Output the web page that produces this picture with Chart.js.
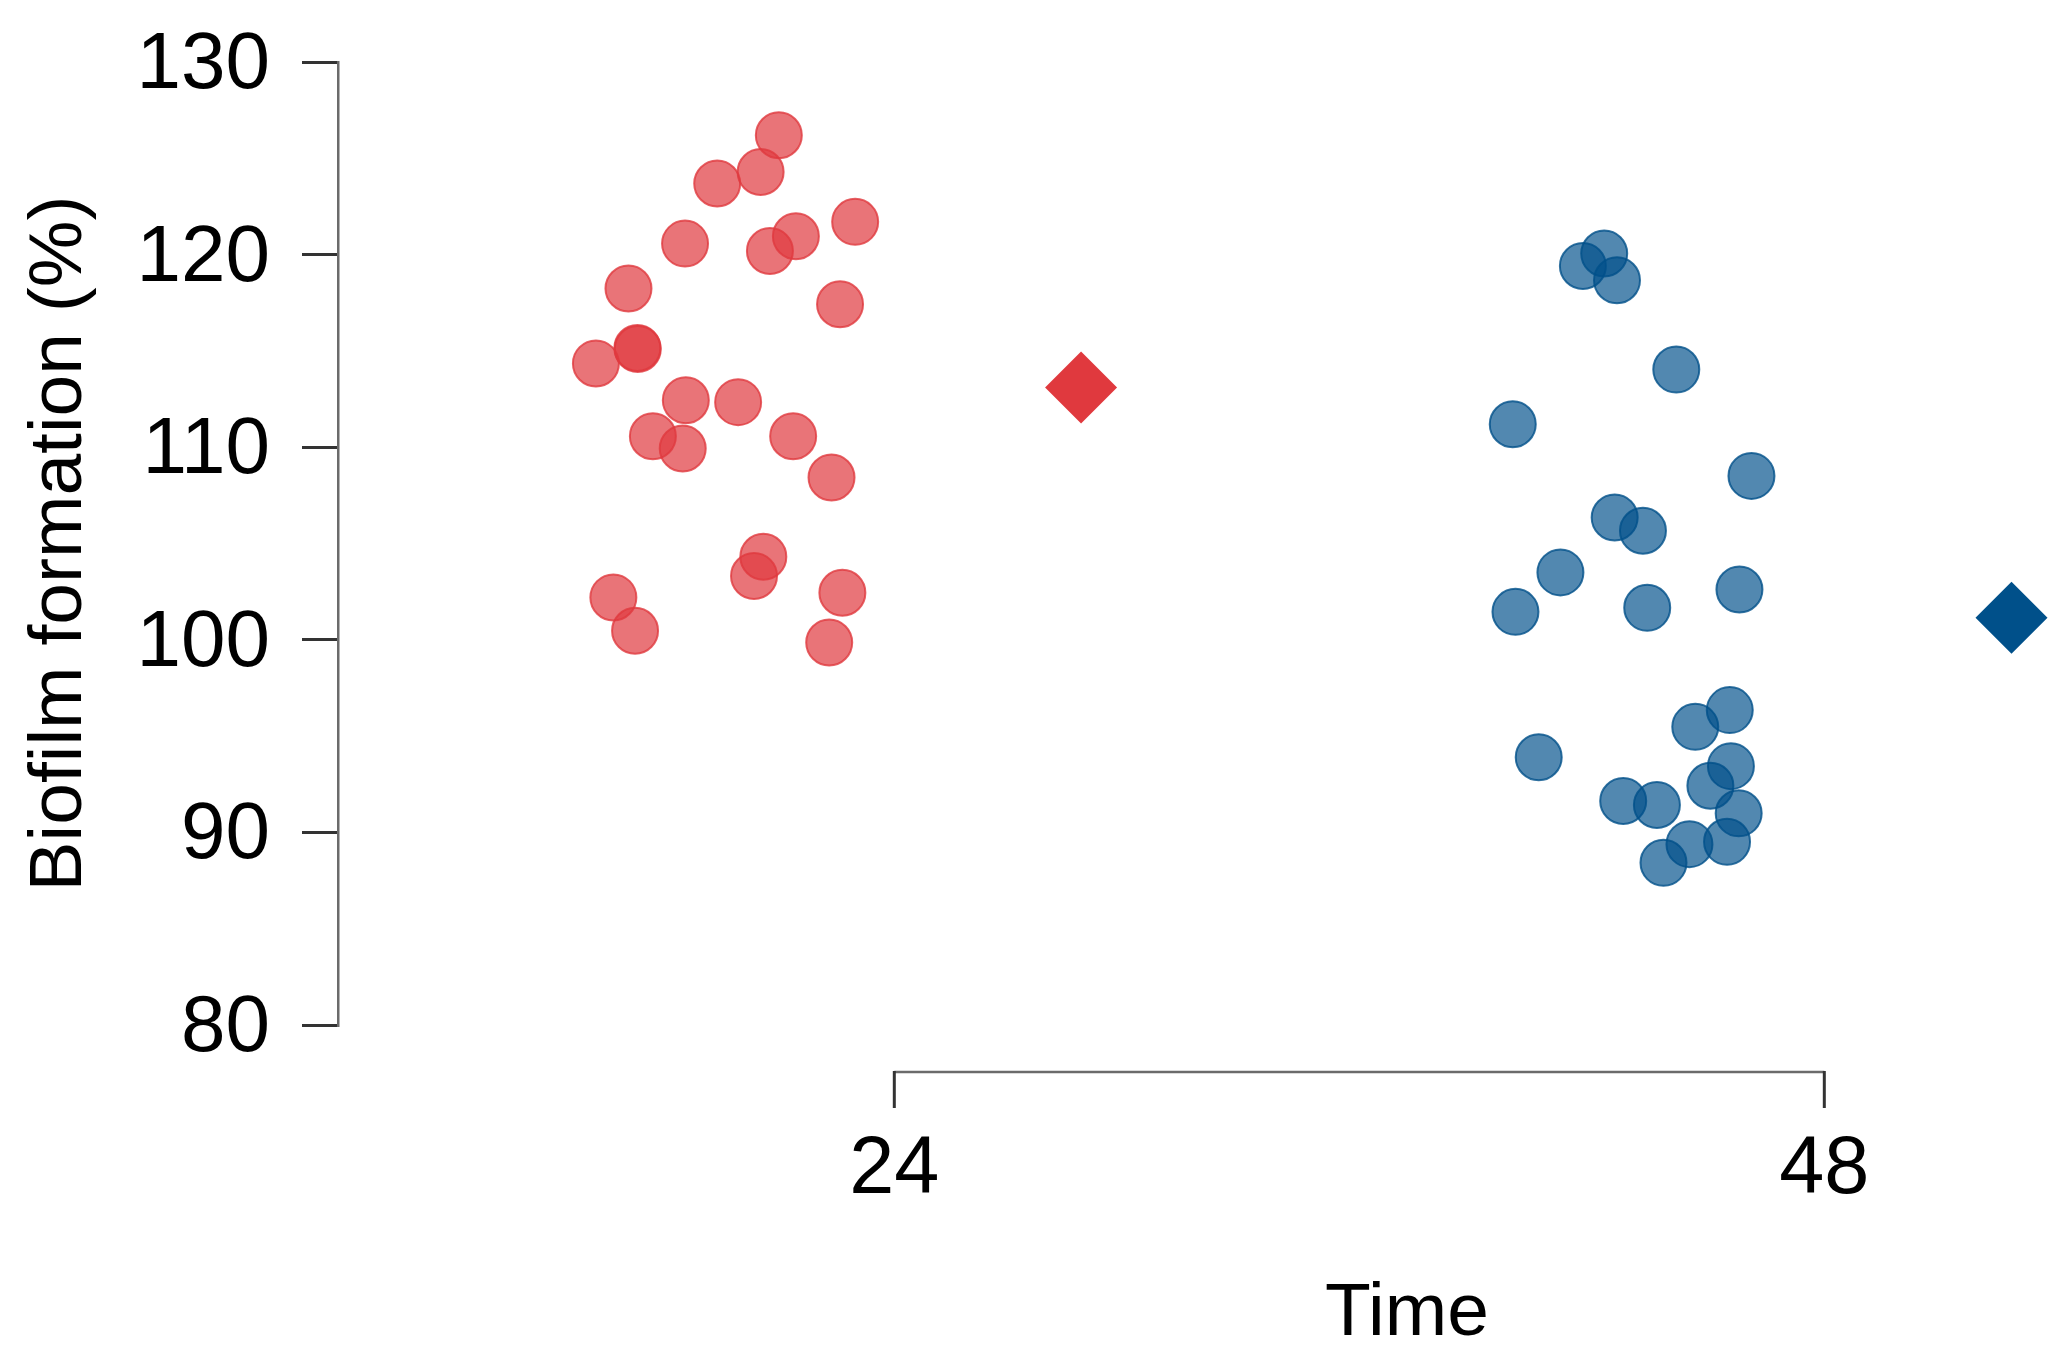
<!DOCTYPE html>
<html>
<head>
<meta charset="utf-8">
<script src="https://cdn.jsdelivr.net/npm/chart.js@4.4.1/dist/chart.umd.min.js"></script>
<style>
  html, body { margin: 0; padding: 0; background: #ffffff; overflow: hidden; }
  canvas { display: block; }
</style>
</head>
<body>
<canvas id="c" width="2061" height="1352"></canvas>
<script>
// ---- data ----
const xTickLabels = [24, 48];
const yTickLabels = [80, 90, 100, 110, 120, 130];
const xAxisTitle = 'Time';
const yAxisTitle = 'Biofilm formation (%)';

const time24X = [21.02, 20.55, 19.43, 22.99, 21.46, 20.79, 18.60, 17.14, 22.60, 17.37, 17.38, 16.30,
                 18.62, 19.97, 17.77, 18.54, 21.39, 22.38, 20.62, 20.38, 16.75, 17.31, 22.66, 22.32];
const time24Y = [126.20, 124.29, 123.69, 121.70, 120.95, 120.19, 120.57, 118.24, 117.42, 115.15, 115.10, 114.35,
                 112.44, 112.34, 110.57, 109.93, 110.57, 108.43, 104.31, 103.31, 102.20, 100.47, 102.44, 99.86];

const time48X = [41.77, 42.32, 42.65, 44.18, 39.96, 46.12, 42.59, 43.32, 41.19, 40.03, 43.43, 45.81,
                 45.56, 44.67, 40.63, 45.59, 45.06, 42.81, 43.68, 45.79, 45.49, 44.52, 43.85];
const time48Y = [119.41, 120.06, 118.67, 114.03, 111.19, 108.51, 106.35, 105.66, 103.50, 101.45, 101.66, 102.61,
                 96.35, 95.48, 93.90, 93.44, 92.42, 91.63, 91.42, 90.99, 89.51, 89.39, 88.42];

const meanX = [28.82, 52.83];
const meanY = [113.1, 101.15];

// axis ranges
const xMin = 9.644, xMax = 53.85;
const yMin = 80, yMax = 130;

const toPoints = (xs, ys) => xs.map((x, i) => ({ x: x, y: ys[i] }));

const FONT = 'Liberation Sans';

const xAxisPlugin = {
  id: 'xAxisLine',
  afterDraw(chart) {
    const { ctx, chartArea, scales } = chart;
    const x = scales.x;
    const yLine = chartArea.bottom + 47;
    const p1 = x.getPixelForValue(xTickLabels[0]);
    const p2 = x.getPixelForValue(xTickLabels[xTickLabels.length - 1]);
    ctx.save();
    ctx.strokeStyle = '#6b6b6b';
    ctx.lineWidth = 2.5;
    ctx.beginPath();
    ctx.moveTo(p1, yLine);
    ctx.lineTo(p2, yLine);
    ctx.stroke();
    ctx.strokeStyle = '#333333';
    ctx.lineWidth = 3;
    xTickLabels.forEach(v => {
      const px = x.getPixelForValue(v);
      ctx.beginPath();
      ctx.moveTo(px, yLine - 1);
      ctx.lineTo(px, yLine + 36);
      ctx.stroke();
    });
    ctx.fillStyle = '#000000';
    ctx.font = '75px "' + FONT + '"';
    ctx.textAlign = 'center';
    ctx.textBaseline = 'alphabetic';
    ctx.fillText(xAxisTitle, chartArea.left + 1069, chartArea.bottom + 310);
    ctx.restore();
  }
};

new Chart(document.getElementById('c'), {
  type: 'scatter',
  data: {
    datasets: [
      {
        label: '24',
        data: toPoints(time24X, time24Y),
        backgroundColor: 'rgba(224,57,62,0.70)',
        borderColor: 'rgba(224,57,62,0.80)',
        borderWidth: 2,
        pointRadius: 23,
        pointHoverRadius: 23,
        clip: false
      },
      {
        label: '48',
        data: toPoints(time48X, time48Y),
        backgroundColor: 'rgba(0,80,138,0.68)',
        borderColor: 'rgba(0,80,138,0.80)',
        borderWidth: 2,
        pointRadius: 23,
        pointHoverRadius: 23,
        clip: false
      },
      {
        label: 'mean 24',
        data: [{ x: meanX[0], y: meanY[0] }],
        pointStyle: 'rectRot',
        backgroundColor: '#e0393e',
        borderWidth: 0,
        pointRadius: 36,
        pointHoverRadius: 36,
        clip: false
      },
      {
        label: 'mean 48',
        data: [{ x: meanX[1], y: meanY[1] }],
        pointStyle: 'rectRot',
        backgroundColor: '#00508a',
        borderWidth: 0,
        pointRadius: 36,
        pointHoverRadius: 36,
        clip: false
      }
    ]
  },
  options: {
    responsive: false,
    animation: false,
    devicePixelRatio: 1,
    layout: { autoPadding: false, padding: { left: 0, right: 10, top: 62, bottom: 0 } },
    plugins: {
      legend: { display: false },
      tooltip: { enabled: false },
      title: { display: false }
    },
    scales: {
      x: {
        type: 'linear',
        position: 'bottom',
        min: xMin,
        max: xMax,
        afterFit(s) { s.height = 327; s.paddingLeft = 0; s.paddingRight = 0; },
        afterBuildTicks(s) { s.ticks = xTickLabels.map(v => ({ value: v })); },
        border: { display: false },
        grid: { display: false, drawTicks: false },
        ticks: {
          font: { family: FONT, size: 81 },
          color: '#000000',
          padding: 97,
          maxRotation: 0,
          autoSkip: false
        }
      },
      y: {
        type: 'linear',
        position: 'left',
        min: yMin,
        max: yMax,
        afterFit(s) { s.width = 338; s.paddingTop = 0; s.paddingBottom = 0; },
        afterBuildTicks(s) { s.ticks = yTickLabels.map(v => ({ value: v })); },
        border: { display: true, color: '#6b6b6b', width: 2.5 },
        grid: { display: true, drawOnChartArea: false, drawTicks: true, tickLength: 36, color: '#333333', lineWidth: 3 },
        ticks: {
          font: { family: FONT, size: 80 },
          color: '#000000',
          padding: 32,
          labelOffset: 4
        },
        title: {
          display: true,
          text: yAxisTitle,
          font: { family: FONT, size: 75 },
          color: '#000000',
          padding: { top: 15, bottom: 0 }
        }
      }
    }
  },
  plugins: [xAxisPlugin]
});
</script>
</body>
</html>
